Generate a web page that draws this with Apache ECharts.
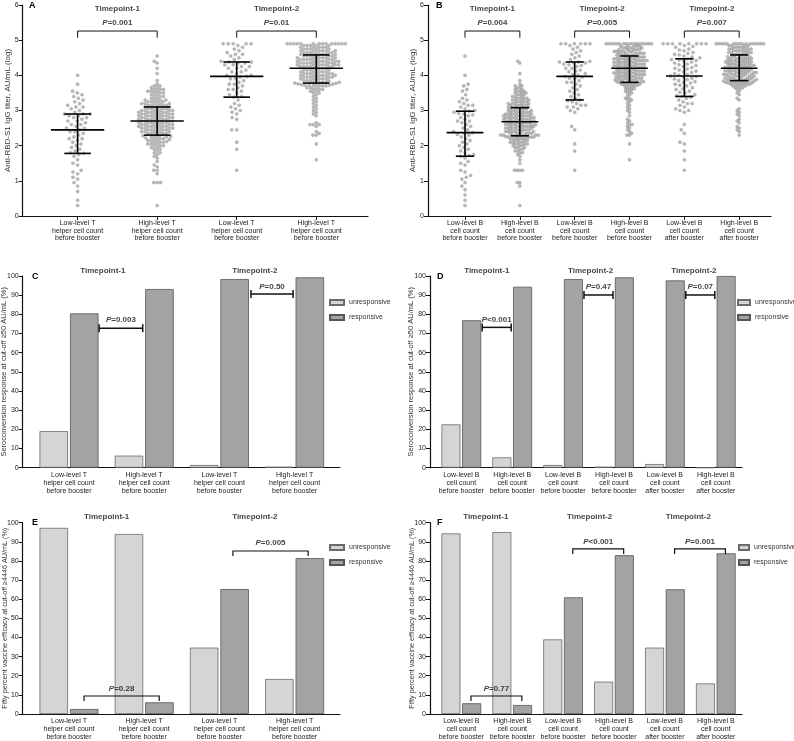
<!DOCTYPE html>
<html><head><meta charset="utf-8">
<script src="https://cdn.jsdelivr.net/npm/echarts@6/dist/echarts.min.js"></script>
<style>html,body{margin:0;padding:0;background:#fff}#c{width:794px;height:741px}</style>
</head><body><div id="c"></div><script>
// ---------------- DATA ----------------
const catA = ['Low-level T\nhelper cell count\nbefore booster','High-level T\nhelper cell count\nbefore booster','Low-level T\nhelper cell count\nbefore booster','High-level T\nhelper cell count\nbefore booster'];
const catB = ['Low-level B\ncell count\nbefore booster','High-level B\ncell count\nbefore booster','Low-level B\ncell count\nbefore booster','High-level B\ncell count\nbefore booster','Low-level B\ncell count\nafter booster','High-level B\ncell count\nafter booster'];
const titlesT = ['Timepoint-1','Timepoint-2'];
const titlesB = ['Timepoint-1','Timepoint-2','Timepoint-2'];
const yNameAB = 'Anti-RBD-S1 IgG titer, AU/mL (log)';
const yNameCD = 'Seroconversion response at cut-off \u226550 AU/mL (%)';
const yNameEF = 'Fifty percent vaccine efficacy at cut-off \u22654446 AU/mL (%)';
const seriesNames = ['unresponsive','responsive'];

// Panel A: log titers
const aLowT1 = [0.3,0.45,0.7,0.85,0.95,1.05,1.1,1.2,1.25,1.3,1.45,1.5,1.6,1.7,1.75,1.78,
 1.8,1.85,1.9,1.95,2.0,2.05,2.1,2.15,2.2,2.2,2.25,2.3,2.35,2.4,2.4,2.45,
 2.5,2.5,2.55,2.6,2.6,2.65,2.7,2.7,2.75,2.8,2.8,2.85,2.85,2.9,2.9,2.9,
 2.95,3.0,3.05,3.1,3.1,3.15,3.2,3.25,3.3,3.35,3.4,3.45,3.5,3.55,3.75,4.0];
const aHighT1 = [0.3,0.95,0.95,0.95,1.2,1.3,1.3,1.4,1.45,1.55,1.65,1.7,1.75,1.8,1.8,1.85,1.9,1.9,1.95,1.95,2.0,2.0,2.0,2.05,2.05,2.05,2.1,2.1,2.1,2.12,2.15,2.15,2.15,2.18,2.2,2.2,2.2,2.22,2.25,2.25,2.25,2.27,2.28,2.3,2.3,
 2.35,2.35,2.35,2.35,2.35,2.4,2.4,2.4,2.4,2.4,2.45,2.45,2.45,2.45,2.45,2.5,2.5,2.5,2.5,2.5,2.5,2.55,2.55,2.55,2.55,2.55,2.55,2.6,2.6,2.6,2.6,2.6,2.6,2.65,2.65,2.65,2.65,2.65,2.65,2.7,2.7,2.7,2.7,2.7,2.7,
 2.75,2.75,2.75,2.75,2.75,2.75,2.8,2.8,2.8,2.8,2.8,2.8,2.85,2.85,2.85,2.85,2.85,2.85,2.9,2.9,2.9,2.9,2.9,2.9,2.95,2.95,2.95,2.95,2.95,2.95,3.0,3.0,3.0,3.0,3.0,3.0,3.05,3.05,3.05,3.05,3.05,3.1,3.1,3.1,3.1,
 3.15,3.15,3.15,3.15,3.15,3.2,3.2,3.2,3.2,3.2,3.25,3.25,3.25,3.25,3.3,3.3,3.3,3.3,3.35,3.35,3.4,3.4,3.4,3.45,3.45,3.5,3.5,3.5,3.55,3.55,3.55,3.6,3.6,3.6,3.65,3.65,3.7,3.7,3.75,3.85,4.05,4.2,4.35,4.4,4.55];
const aLowT2 = [1.3,1.9,2.1,2.45,2.45,2.75,2.8,2.9,2.95,3.0,3.05,3.1,3.15,3.2,3.3,3.38,
 3.4,3.45,3.5,3.55,3.6,3.6,3.65,3.7,3.75,3.75,3.8,3.85,3.9,3.9,3.95,3.97,
 4.0,4.0,4.05,4.1,4.1,4.15,4.2,4.2,4.25,4.25,4.3,4.3,4.35,4.35,4.38,4.38,
 4.4,4.45,4.5,4.55,4.6,4.6,4.65,4.7,4.75,4.8,4.85,4.9,4.9,4.9,4.9,4.9];
const aHighT2 = [1.6,2.05,2.3,2.3,2.35,2.4,2.55,2.6,2.6,2.6,2.65,2.85,2.9,2.95,3.0,3.05,3.1,3.15,3.2,3.25,3.3,3.35,3.4,3.45,3.5,3.5,3.55,3.55,3.6,3.6,3.6,3.65,3.65,3.65,3.7,3.7,3.7,3.7,3.72,3.72,3.74,3.74,3.75,3.75,3.76,3.77,3.78,
 3.8,3.8,3.8,3.8,3.8,3.85,3.85,3.85,3.85,3.85,3.9,3.9,3.9,3.9,3.9,3.95,3.95,3.95,3.95,3.95,3.95,4.0,4.0,4.0,4.0,4.0,4.0,4.05,4.05,4.05,4.05,4.05,4.05,4.1,4.1,4.1,4.1,4.1,4.15,4.15,4.15,4.15,4.15,4.2,4.2,4.2,4.2,
 4.25,4.25,4.25,4.25,4.25,4.25,4.25,4.3,4.3,4.3,4.3,4.3,4.3,4.3,4.35,4.35,4.35,4.35,4.35,4.35,4.35,4.4,4.4,4.4,4.4,4.4,4.4,4.4,4.45,4.45,4.45,4.45,4.45,4.45,4.45,4.5,4.5,4.5,4.5,4.5,4.5,4.55,4.55,4.55,4.55,4.55,4.55,
 4.6,4.6,4.6,4.6,4.6,4.6,4.65,4.65,4.65,4.65,4.65,4.65,4.7,4.7,4.7,4.7,4.7,4.7,4.75,4.75,4.75,4.75,4.75,4.8,4.8,4.8,4.8,4.8,4.85,4.85,4.85,4.85,4.85,4.9,4.9,4.9,4.9,4.9,4.9,4.9,4.9,4.9,4.9,4.9,4.9,4.9,4.9];
const aMedian = [2.45,2.7,3.97,4.2];
const aQ1 = [1.78,2.3,3.38,3.78];
const aQ3 = [2.9,3.1,4.38,4.58];
const aPvals = ['=0.001','=0.01'];

// Panel B: log titers
const bLowB1 = [0.3,0.45,0.6,0.75,0.85,0.95,1.05,1.1,1.15,1.25,1.3,1.45,1.5,1.55,1.65,1.7,
 1.72,1.75,1.8,1.85,1.9,1.95,2.0,2.05,2.1,2.15,2.2,2.25,2.3,2.32,2.35,2.37,
 2.4,2.45,2.5,2.55,2.6,2.65,2.7,2.7,2.75,2.8,2.85,2.88,2.9,2.92,2.95,2.98,
 3.0,3.05,3.1,3.15,3.15,3.2,3.25,3.3,3.35,3.45,3.55,3.6,3.7,3.75,4.0,4.55];
const bHighB1 = [0.3,0.85,0.95,0.95,1.3,1.3,1.3,1.3,1.5,1.6,1.7,1.75,1.8,1.8,1.85,1.85,1.9,1.9,1.95,1.95,1.95,2.0,2.0,2.0,2.05,2.05,2.05,2.05,2.1,2.1,2.1,2.1,2.15,2.15,2.15,2.15,2.2,2.2,2.2,2.2,2.22,2.22,2.24,2.24,2.25,2.25,2.26,2.27,2.28,2.28,
 2.3,2.3,2.3,2.3,2.3,2.3,2.35,2.35,2.35,2.35,2.35,2.35,2.4,2.4,2.4,2.4,2.4,2.4,2.45,2.45,2.45,2.45,2.45,2.45,2.5,2.5,2.5,2.5,2.5,2.5,2.55,2.55,2.55,2.55,2.55,2.55,2.55,2.6,2.6,2.6,2.6,2.6,2.6,2.6,2.65,2.65,2.65,2.65,2.65,2.65,
 2.7,2.7,2.7,2.7,2.7,2.7,2.7,2.75,2.75,2.75,2.75,2.75,2.75,2.75,2.8,2.8,2.8,2.8,2.8,2.8,2.8,2.85,2.85,2.85,2.85,2.85,2.85,2.85,2.9,2.9,2.9,2.9,2.9,2.9,2.95,2.95,2.95,2.95,2.95,2.95,3.0,3.0,3.0,3.0,3.0,3.05,3.05,3.05,3.05,3.05,
 3.1,3.1,3.1,3.1,3.1,3.15,3.15,3.15,3.15,3.15,3.2,3.2,3.2,3.2,3.2,3.25,3.25,3.25,3.25,3.3,3.3,3.3,3.3,3.35,3.35,3.35,3.35,3.4,3.4,3.4,3.45,3.45,3.45,3.5,3.5,3.5,3.55,3.55,3.55,3.6,3.6,3.65,3.65,3.7,3.7,3.75,3.85,4.05,4.35,4.4];
const bLowB2 = [1.3,1.85,2.05,2.45,2.55,2.95,3.0,3.05,3.1,3.1,3.15,3.15,3.2,3.25,3.28,3.3,
 3.35,3.4,3.45,3.5,3.55,3.6,3.65,3.7,3.75,3.8,3.8,3.85,3.9,3.92,3.95,3.97,
 4.0,4.02,4.05,4.1,4.12,4.15,4.2,4.2,4.25,4.28,4.3,4.32,4.35,4.35,4.38,4.38,
 4.4,4.45,4.5,4.55,4.6,4.65,4.7,4.75,4.8,4.85,4.9,4.9,4.9,4.9,4.9,4.9];
const bHighB2 = [1.6,2.05,2.3,2.3,2.35,2.4,2.45,2.5,2.55,2.6,2.6,2.65,2.7,2.75,2.85,2.95,3.0,3.05,3.1,3.15,3.2,3.25,3.3,3.3,3.35,3.35,3.4,3.45,3.5,3.5,3.55,3.55,3.6,3.6,3.62,3.65,3.65,3.68,3.7,3.7,3.72,3.72,3.74,3.75,3.75,3.76,3.77,3.78,3.79,3.8,
 3.82,3.82,3.82,3.82,3.82,3.87,3.87,3.87,3.87,3.87,3.87,3.92,3.92,3.92,3.92,3.92,3.92,3.97,3.97,3.97,3.97,3.97,3.97,4.02,4.02,4.02,4.02,4.02,4.02,4.02,4.07,4.07,4.07,4.07,4.07,4.07,4.07,4.12,4.12,4.12,4.12,4.12,4.12,4.12,4.17,4.17,4.17,4.17,4.17,4.17,
 4.22,4.22,4.22,4.22,4.22,4.22,4.22,4.27,4.27,4.27,4.27,4.27,4.27,4.27,4.32,4.32,4.32,4.32,4.32,4.32,4.32,4.37,4.37,4.37,4.37,4.37,4.37,4.37,4.42,4.42,4.42,4.42,4.42,4.42,4.42,4.42,4.47,4.47,4.47,4.47,4.47,4.47,4.47,4.52,4.52,4.52,4.52,4.52,4.52,4.52,
 4.58,4.58,4.58,4.58,4.58,4.58,4.63,4.63,4.63,4.63,4.63,4.63,4.68,4.68,4.68,4.68,4.68,4.68,4.73,4.73,4.73,4.73,4.73,4.78,4.78,4.78,4.78,4.78,4.83,4.83,4.83,4.83,4.83,4.9,4.9,4.9,4.9,4.9,4.9,4.9,4.9,4.9,4.9,4.9,4.9,4.9,4.9,4.9,4.9,4.9];
const bLowBAfter = [1.3,1.6,1.85,2.05,2.1,2.35,2.45,2.6,2.95,3.0,3.0,3.05,3.1,3.15,3.2,3.2,3.25,3.3,3.35,3.38,3.4,
 3.42,3.45,3.5,3.52,3.55,3.6,3.62,3.65,3.7,3.72,3.75,3.78,3.8,3.82,3.85,3.88,3.9,3.92,3.95,3.97,3.98,
 4.0,4.02,4.05,4.08,4.1,4.12,4.15,4.18,4.2,4.22,4.25,4.28,4.3,4.32,4.35,4.38,4.4,4.42,4.44,4.45,4.47,
 4.5,4.52,4.55,4.58,4.6,4.62,4.65,4.7,4.72,4.75,4.8,4.82,4.85,4.9,4.9,4.9,4.9,4.9,4.9,4.9,4.9];
const bHighBAfter = [2.3,2.4,2.45,2.5,2.55,2.65,2.7,2.75,2.85,2.9,2.95,3.0,3.05,3.3,3.35,3.45,3.5,3.55,3.6,3.62,3.65,3.65,3.68,3.7,3.7,3.72,3.72,3.74,3.75,3.75,3.76,3.77,3.78,3.78,3.79,3.8,3.8,3.81,3.82,3.82,3.83,3.84,3.84,3.85,3.85,
 3.88,3.88,3.88,3.88,3.88,3.88,3.93,3.93,3.93,3.93,3.93,3.93,3.98,3.98,3.98,3.98,3.98,3.98,4.03,4.03,4.03,4.03,4.03,4.03,4.03,4.08,4.08,4.08,4.08,4.08,4.08,4.08,4.13,4.13,4.13,4.13,4.13,4.13,4.13,4.18,4.18,4.18,4.18,4.18,4.18,
 4.23,4.23,4.23,4.23,4.23,4.23,4.23,4.28,4.28,4.28,4.28,4.28,4.28,4.28,4.33,4.33,4.33,4.33,4.33,4.33,4.38,4.38,4.38,4.38,4.38,4.38,4.38,4.43,4.43,4.43,4.43,4.43,4.43,4.48,4.48,4.48,4.48,4.48,4.48,4.53,4.53,4.53,4.53,4.53,4.53,
 4.6,4.6,4.6,4.6,4.6,4.65,4.65,4.65,4.65,4.65,4.7,4.7,4.7,4.7,4.7,4.75,4.75,4.75,4.75,4.75,4.8,4.8,4.8,4.8,4.8,4.85,4.85,4.85,4.85,4.9,4.9,4.9,4.9,4.9,4.9,4.9,4.9,4.9,4.9,4.9,4.9,4.9,4.9,4.9,4.9];
const bMedian = [2.37,2.68,3.97,4.2,3.98,4.2];
const bQ1 = [1.7,2.28,3.3,3.8,3.4,3.85];
const bQ3 = [2.98,3.08,4.38,4.55,4.47,4.58];
const bPvals = ['=0.004','=0.005','=0.007'];

// Panels C-F: percentages
const cUnresp = [19.1, 6.3, 1.4, 0.5];
const cResp = [80.5, 93.2, 98.4, 99.3];
const cPvals = ['=0.003','=0.50'];
const dUnresp = [22.6, 5.4, 1.4, 0.5, 1.9, 0];
const dResp = [76.9, 94.4, 98.4, 99.3, 97.7, 100];
const dPvals = ['<0.001','=0.47','=0.07'];
const eUnresp = [97.3, 94.1, 34.7, 18.3];
const eResp = [2.6, 6.1, 65.3, 81.5];
const ePvals = ['=0.28','=0.005'];
const fUnresp = [94.4, 95.1, 39, 16.9, 34.7, 16];
const fResp = [5.6, 4.7, 61, 83, 65.2, 84];
const fPvals = ['=0.77','<0.001','=0.001'];

// ---------------- LAYOUT ----------------
const FONT = '"Liberation Sans", Arial, Helvetica, sans-serif';
const L = {
  A: {left:22.7, top:5, width:345.3, height:211, xmin:0.31, xmax:4.65, nameGap:11.2, dDense:3.4, dSparse:5.0},
  B: {left:428, top:5, width:343, height:211, xmin:0.325, xmax:6.58, nameGap:11, dDense:2.7, dSparse:4.7},
  C: {left:22.7, top:276, width:317.3, height:191.7, xmin:0.384, xmax:4.604, nameGap:14.5},
  D: {left:430, top:276, width:312, height:191.7, xmin:0.385, xmax:6.515, nameGap:15.2},
  E: {left:22.7, top:522.7, width:317.3, height:191.3, xmin:0.384, xmax:4.604, nameGap:14.2},
  F: {left:430, top:522.7, width:312, height:191.3, xmin:0.385, xmax:6.515, nameGap:14.5}
};
const DOT_SIZE = 3.1;

const grids=[], xAxes=[], yAxes=[], series=[], legends=[], graphics=[];
const axisLine = {show:true, lineStyle:{color:'#111', width:1.2}};
const tickStyle = {show:true, length:4, lineStyle:{color:'#111', width:1}};

function addGrid(g, left, width){
  grids.push({left:left, top:g.top, width:width, height:g.height, containLabel:false, outerBoundsMode:'none'});
  return grids.length-1;
}
function frameY(gi, max, interval, name, gap, nameSize){
  yAxes.push({type:'value', gridIndex:gi, min:0, max:max, interval:interval, axisLine:axisLine, axisTick:tickStyle,
    axisLabel:{fontSize:7, color:'#222', margin:4, fontFamily:FONT}, splitLine:{show:false},
    name:name, nameLocation:'middle', nameGap:gap, nameMoveOverlap:false,
    nameTextStyle:{fontSize:nameSize, color:'#333', fontFamily:FONT}});
  return yAxes.length-1;
}
// beeswarm layout: horizontal offsets only (pixel spacing d), y stays the data value
function swarm(values, center, ppuX, ppuY, d){
  const sorted = values.slice().sort((a,b)=>a-b);
  const placed = [], out = [];
  for (const v of sorted){
    const y = v*ppuY;
    const near = placed.filter(p=>Math.abs(p.y-y) < d);
    const cands = [0];
    for (const p of near){ const dx = Math.sqrt(d*d-(p.y-y)*(p.y-y)); cands.push(p.x+dx, p.x-dx); }
    cands.sort((a,b)=>Math.abs(a)-Math.abs(b) || a-b);
    let best = 0;
    for (const c of cands){
      if (near.every(p=>(p.x-c)*(p.x-c)+(p.y-y)*(p.y-y) >= d*d-1e-6)) { best = c; break; }
    }
    placed.push({x:best, y:y});
    out.push([center + best/ppuX, v]);
  }
  return out;
}
function pLabelSeries(ax, ay, items){
  return {type:'scatter', xAxisIndex:ax, yAxisIndex:ay, symbol:'circle', symbolSize:0.1, clip:false, silent:true, z:10,
    itemStyle:{color:'rgba(0,0,0,0)'},
    data: items,
    label:{show:true, position:'inside', formatter:p=>'{i|P}{b|'+p.name+'}',
      rich:{i:{fontStyle:'italic', fontWeight:'bold', fontSize:8, fontFamily:FONT, color:'#111'},
            b:{fontWeight:'bold', fontSize:8, fontFamily:FONT, color:'#111'}}}};
}
function titleSeries(ax, ay, items){
  return {type:'scatter', xAxisIndex:ax, yAxisIndex:ay, symbol:'circle', symbolSize:0.1, clip:false, silent:true, z:10,
    itemStyle:{color:'rgba(0,0,0,0)'}, data: items,
    label:{show:true, position:'inside', formatter:'{b}', fontWeight:'bold', fontSize:8, fontFamily:FONT, color:'#111'}};
}
function bracketSeries(ax, ay, items, mode, width){
  return {type:'custom', xAxisIndex:ax, yAxisIndex:ay, silent:true, z:9, clip:false, data:items,
    renderItem:(params, api)=>{
      const x1=api.value(0), x2=api.value(1), y=api.value(2), ye=api.value(3);
      const st = {stroke:'#111', lineWidth:width, fill:null};
      const a = api.coord([x1,y]), b = api.coord([x2,y]);
      if (mode==='cap'){
        return {type:'group', children:[
          {type:'line', shape:{x1:a[0],y1:a[1],x2:b[0],y2:b[1]}, style:st},
          {type:'line', shape:{x1:a[0],y1:a[1]-4,x2:a[0],y2:a[1]+4}, style:st},
          {type:'line', shape:{x1:b[0],y1:b[1]-4,x2:b[0],y2:b[1]+4}, style:st}]};
      }
      const ae = api.coord([x1,ye]), be = api.coord([x2,ye]);
      return {type:'polyline', shape:{points:[ae,a,b,be]}, style:st};
    }};
}

function scatterPanel(key, groups, cats, med, q1, q3, titles, pvals){
  const g = L[key];
  const gi = addGrid(g, g.left, g.width);
  const ticks = cats.map((c,i)=>i+1);
  xAxes.push({type:'value', gridIndex:gi, min:g.xmin, max:g.xmax, axisLine:axisLine,
    axisTick:Object.assign({customValues:ticks}, tickStyle),
    axisLabel:{customValues:ticks, formatter:v=>cats[Math.round(v)-1], fontSize:7, lineHeight:7.8, margin:3, color:'#222', fontFamily:FONT},
    splitLine:{show:false}});
  const ax = xAxes.length-1;
  const ay = frameY(gi, 6, 1, yNameAB, g.nameGap, 8);
  const ppuX = g.width/(g.xmax-g.xmin), ppuY = g.height/6;
  groups.forEach((vals,i)=>{
    series.push({type:'scatter', xAxisIndex:ax, yAxisIndex:ay, symbol:'circle', symbolSize:DOT_SIZE, silent:true, z:2,
      itemStyle:{color:'#a9a9a9', borderColor:'#8a8a8a', borderWidth:0.4},
      data: swarm(vals, i+1, ppuX, ppuY, vals.length > 120 ? g.dDense : g.dSparse)});
  });
  series.push({type:'custom', xAxisIndex:ax, yAxisIndex:ay, silent:true, z:5,
    data: med.map((m,i)=>[i+1, m, q1[i], q3[i]]),
    renderItem:(params, api)=>{
      const x=api.value(0), m=api.value(1), a=api.value(2), b=api.value(3);
      const seg=(p1,p2)=>({type:'line', shape:{x1:p1[0],y1:p1[1],x2:p2[0],y2:p2[1]}, style:{stroke:'#000', lineWidth:1.6}});
      return {type:'group', children:[
        seg(api.coord([x-0.335,m]), api.coord([x+0.335,m])),
        seg(api.coord([x,a]), api.coord([x,b])),
        seg(api.coord([x-0.167,a]), api.coord([x+0.167,a])),
        seg(api.coord([x-0.167,b]), api.coord([x+0.167,b]))]};
    }});
  const pairs = titles.map((t,k)=>[2*k+1, 2*k+2]);
  series.push(bracketSeries(ax, ay, pairs.map(p=>[p[0],p[1],5.26,5.07]), 'down', 1));
  series.push(pLabelSeries(ax, ay, pairs.map((p,k)=>({value:[(p[0]+p[1])/2, 5.5], name:pvals[k]}))));
  series.push(titleSeries(ax, ay, pairs.map((p,k)=>({value:[(p[0]+p[1])/2, 5.885], name:titles[k]}))));
}

function barPanel(key, cats, unresp, resp, yMaxName, nameSize, titles, titleX, titleY, pvals, brackets, mode, barW, barGap, legendPos, legendIconW){
  const g = L[key];
  const gi = addGrid(g, g.left, g.width);
  xAxes.push({type:'value', gridIndex:gi, min:g.xmin, max:g.xmax, axisLine:axisLine, axisTick:{show:false}, axisLabel:{show:false}, splitLine:{show:false}});
  const ax = xAxes.length-1;
  const ay = frameY(gi, 100, 10, yMaxName, g.nameGap, nameSize);
  const ppu = g.width/(g.xmax-g.xmin);
  const gi2 = addGrid(g, g.left + (0.5-g.xmin)*ppu, cats.length*ppu);
  xAxes.push({type:'category', gridIndex:gi2, data:cats, axisLine:{show:false}, axisTick:{show:false},
    axisLabel:{interval:0, fontSize:7, lineHeight:7.8, margin:3.5, color:'#222', fontFamily:FONT}});
  yAxes.push({type:'value', gridIndex:gi2, min:0, max:100, show:false});
  const bx = xAxes.length-1, by = yAxes.length-1;
  series.push({name:seriesNames[0], type:'bar', xAxisIndex:bx, yAxisIndex:by, data:unresp, barWidth:barW, barGap:barGap, silent:true,
    itemStyle:{color:'#d5d5d5', borderColor:'#6a6a6a', borderWidth:0.8}});
  series.push({name:seriesNames[1], type:'bar', xAxisIndex:bx, yAxisIndex:by, data:resp, barWidth:barW, barGap:barGap, silent:true,
    itemStyle:{color:'#a3a3a3', borderColor:'#555', borderWidth:0.8}});
  series.push(bracketSeries(ax, ay, brackets.map(b=>[b.x1,b.x2,b.y,b.ye]), mode, mode==='cap'?1.5:1.2));
  series.push(pLabelSeries(ax, ay, brackets.map((b,k)=>({value:[(b.x1+b.x2)/2, b.ly], name:pvals[k]}))));
  series.push(titleSeries(ax, ay, titles.map((t,k)=>({value:[titleX[k], titleY], name:t}))));
  legends.push({orient:'vertical', left:legendPos[0], top:legendPos[1], padding:0, itemWidth:legendIconW, itemHeight:5, itemGap:8, icon:'rect', selectedMode:false,
    textStyle:{fontSize:7, color:'#333', fontFamily:FONT}, data:seriesNames});
}

scatterPanel('A', [aLowT1, aHighT1, aLowT2, aHighT2], catA, aMedian, aQ1, aQ3, titlesT, aPvals);
scatterPanel('B', [bLowB1, bHighB1, bLowB2, bHighB2, bLowBAfter, bHighBAfter], catB, bMedian, bQ1, bQ3, titlesB, bPvals);
barPanel('C', catA, cUnresp, cResp, yNameCD, 7.5, titlesT, [1.45,3.47], 102.6, cPvals,
  [{x1:1.40,x2:1.98,y:72.8,ye:72.8,ly:77},{x1:3.42,x2:3.98,y:90.6,ye:90.6,ly:94.3}], 'cap', 28.5, '7%', [329,299], 14);
barPanel('D', catB, dUnresp, dResp, yNameCD, 7.5, titlesB, [1.5,3.54,5.57], 102.6, dPvals,
  [{x1:1.41,x2:1.98,y:73.2,ye:73.2,ly:77},{x1:3.41,x2:3.98,y:90.1,ye:90.1,ly:94.6},{x1:5.41,x2:5.98,y:90.1,ye:90.1,ly:94.6}], 'cap', 19, '9%', [737,299], 12);
barPanel('E', catA, eUnresp, eResp, yNameEF, 7.2, titlesT, [1.5,3.47], 103.1, ePvals,
  [{x1:1.2,x2:2.2,y:9.4,ye:6.8,ly:13.1},{x1:3.18,x2:4.18,y:85.2,ye:82.6,ly:89.4}], 'down', 28.5, '7%', [329,544], 14);
barPanel('F', catB, fUnresp, fResp, yNameEF, 7.2, titlesB, [1.48,3.52,5.46], 103.1, fPvals,
  [{x1:1.19,x2:2.19,y:9.4,ye:6.8,ly:13.1},{x1:3.19,x2:4.19,y:86.3,ye:83.6,ly:89.9},{x1:5.19,x2:6.19,y:86.3,ye:83.6,ly:89.9}], 'down', 19, '9%', [738,544], 10);

[['A',29,6],['B',436,6],['C',32,277],['D',437,277],['E',32,523],['F',437,523]].forEach(l=>{
  graphics.push({type:'text', x:l[1], y:l[2], silent:true, style:{text:l[0], fontSize:9, fontWeight:'bold', fontFamily:FONT, fill:'#000', verticalAlign:'middle'}});
});

const chart = echarts.init(document.getElementById('c'), null, {renderer:'canvas'});
chart.setOption({animation:false, backgroundColor:'#fff', grid:grids, xAxis:xAxes, yAxis:yAxes, series:series, legend:legends, graphic:graphics});
</script></body></html>
